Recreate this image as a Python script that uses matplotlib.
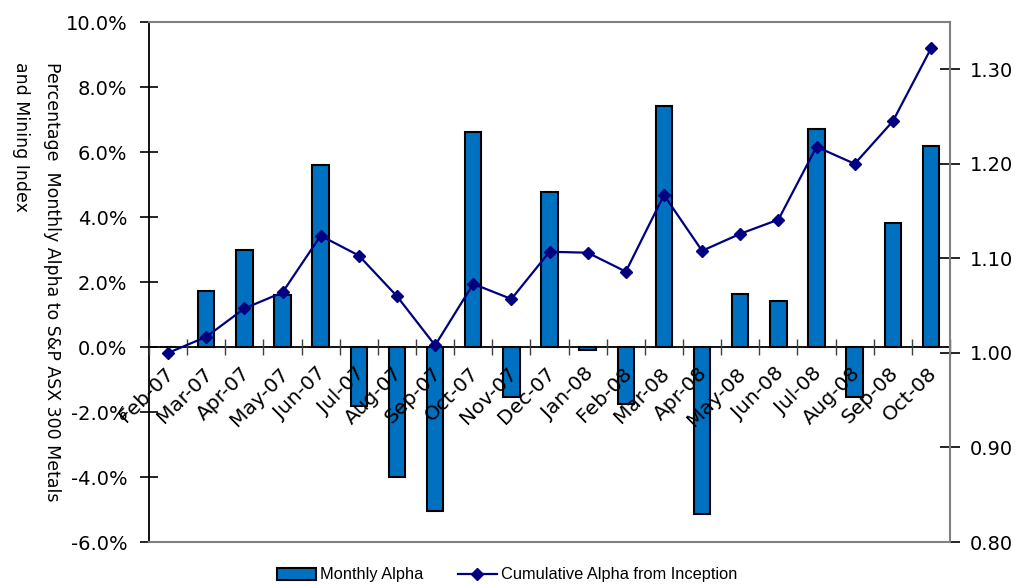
import matplotlib
matplotlib.use("Agg")
import matplotlib.pyplot as plt
from matplotlib.transforms import ScaledTranslation
from matplotlib.ticker import FuncFormatter
import numpy as np

months = ["Feb-07", "Mar-07", "Apr-07", "May-07", "Jun-07", "Jul-07", "Aug-07",
          "Sep-07", "Oct-07", "Nov-07", "Dec-07", "Jan-08", "Feb-08", "Mar-08",
          "Apr-08", "May-08", "Jun-08", "Jul-08", "Aug-08", "Sep-08", "Oct-08"]
monthly_alpha = [0.0, 1.71, 3.0, 1.61, 5.59, -1.8, -4.0, -5.05, 6.61, -1.54, 4.76,
                 -0.1, -1.75, 7.42, -5.14, 1.63, 1.43, 6.72, -1.55, 3.82, 6.19]
cumulative_alpha = [1.000, 1.017, 1.047, 1.064, 1.124, 1.103, 1.060, 1.008, 1.073,
                    1.057, 1.107, 1.106, 1.086, 1.167, 1.108, 1.126, 1.141, 1.218,
                    1.200, 1.245, 1.322]
left_ticks = [-6, -4, -2, 0, 2, 4, 6, 8, 10]
right_ticks = [0.80, 0.90, 1.00, 1.10, 1.20, 1.30]

BAR = "#0070C0"
LINE = "#000080"
GRAY = "#808080"

fig = plt.figure(figsize=(10.15, 5.84), dpi=100)
ax = fig.add_axes([0.1468, 0.0719, 0.7892, 0.8904])
ax.set_axisbelow(False)
x = np.arange(len(months))

bars = ax.bar(x, monthly_alpha, width=0.43, color=BAR, edgecolor="black",
              linewidth=1.5, label="Monthly Alpha", zorder=1)
ax.set_xlim(-0.5, len(months) - 0.5)
ax.set_ylim(-6, 10)
ax.set_yticks(left_ticks)
ax.yaxis.set_major_formatter(FuncFormatter(lambda v, p: f"{v:.1f}%"))

ax.spines["bottom"].set_position(("data", 0))
ax.spines["bottom"].set_color("black")
ax.spines["bottom"].set_linewidth(1.3)
ax.spines["left"].set_color("black")
ax.spines["left"].set_linewidth(1.3)
ax.spines["top"].set_visible(False)
ax.spines["right"].set_visible(False)

ax.set_xticks(x)
ax.set_xticklabels(months, rotation=45, ha="right", va="top",
                   rotation_mode="anchor", fontsize=14.5, family="DejaVu Sans")
ax.set_xticks(np.arange(len(months) + 1) - 0.5, minor=True)
ax.tick_params(axis="x", which="major", length=0, pad=12)
ax.tick_params(axis="x", which="minor", length=11, direction="inout",
               color="#404040", width=1.0)
ax.tick_params(axis="y", which="major", length=13, direction="inout",
               width=1.2, pad=9, labelsize=14, color="black")
for lab in ax.get_yticklabels():
    lab.set_family("DejaVu Sans")
off = ScaledTranslation(-4 / 100, 0, fig.dpi_scale_trans)
for lab in ax.get_xticklabels():
    lab.set_transform(lab.get_transform() + off)

ax2 = ax.twinx()
line, = ax2.plot(x, cumulative_alpha, color=LINE, linewidth=1.6, marker="D",
                 markersize=6, label="Cumulative Alpha from Inception", zorder=3)
ax2.set_ylim(0.80, 1.35)
ax2.set_yticks(right_ticks)
ax2.yaxis.set_major_formatter(FuncFormatter(lambda v, p: f"{v:.2f}"))
ax2.tick_params(axis="y", length=15, direction="inout", width=1.2, pad=7,
                labelsize=14, color="black")
for lab in ax2.get_yticklabels():
    lab.set_family("DejaVu Sans")
for s in ["top", "right", "bottom"]:
    ax2.spines[s].set_color(GRAY)
    ax2.spines[s].set_linewidth(1.5)
ax2.spines["left"].set_visible(False)

fig.text(52 / 1015, 1 - 62 / 584, "Percentage  Monthly Alpha to S&P ASX 300 Metals",
         rotation=270, ha="center", va="top", fontsize=12.5, family="DejaVu Sans")
fig.text(21 / 1015, 1 - 62 / 584, "and Mining Index",
         rotation=270, ha="center", va="top", fontsize=12.5, family="DejaVu Sans")

fig.legend([bars, line], ["Monthly Alpha", "Cumulative Alpha from Inception"],
           loc="center", bbox_to_anchor=(507 / 1015, 9 / 584), ncol=2,
           frameon=False, prop={"family": "Liberation Sans", "size": 11.8},
           handlelength=2.4, handletextpad=0.25, columnspacing=2.1,
           borderpad=0, borderaxespad=0)

fig.savefig("out.png", dpi=100)
